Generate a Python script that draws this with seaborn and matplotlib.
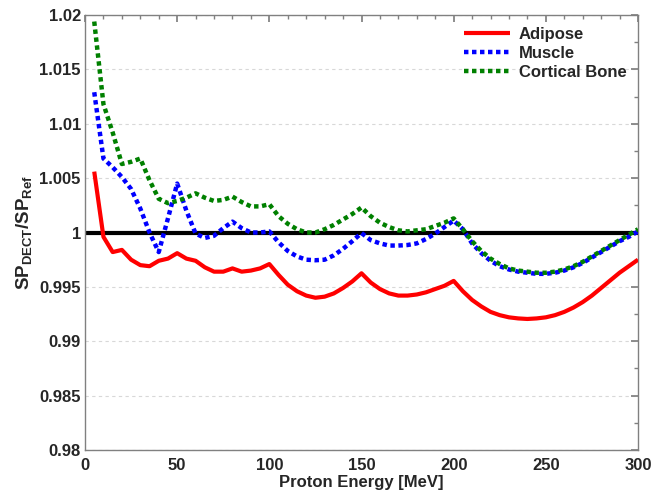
import numpy as np
import pandas as pd
import matplotlib
matplotlib.use("Agg")
import matplotlib.pyplot as plt
import seaborn as sns
from matplotlib.ticker import MultipleLocator

energy = list(range(5, 301, 5))

adipose = [1.0056, 0.9996, 0.9982, 0.9984, 0.9975, 0.9970, 0.9969, 0.9974, 0.9976, 0.9981,
           0.9976, 0.9974, 0.9968, 0.9964, 0.9964, 0.9967, 0.9964, 0.9965, 0.9967, 0.9971,
           0.9961, 0.9952, 0.9946, 0.9942, 0.9940, 0.9941, 0.9944, 0.9949, 0.9955, 0.99625,
           0.9954, 0.9948, 0.9944, 0.9942, 0.9942, 0.9943, 0.9945, 0.9948, 0.9951, 0.99555,
           0.9946, 0.9938, 0.9932, 0.9927, 0.9924, 0.9922, 0.9921, 0.99205, 0.9921, 0.9922,
           0.9924, 0.9927, 0.9931, 0.9936, 0.9942, 0.9949, 0.9956, 0.9963, 0.9969, 0.9975]

muscle = [1.0129, 1.0068, 1.0060, 1.0051, 1.0040, 1.0022, 1.0000, 0.9982, 1.0013, 1.0045,
          1.0020, 0.9999, 0.9995, 0.9997, 1.0004, 1.0010, 1.0004, 1.0000, 1.0000, 1.0001,
          0.9991, 0.9983, 0.9978, 0.9975, 0.99745, 0.9975, 0.9979, 0.9985, 0.9992, 0.99995,
          0.9993, 0.9990, 0.9988, 0.9988, 0.99885, 0.9990, 0.9994, 0.9999, 1.0005, 1.0011,
          1.0003, 0.9990, 0.9981, 0.9974, 0.9969, 0.9966, 0.9964, 0.9963, 0.9962, 0.9962,
          0.9963, 0.9965, 0.9968, 0.9972, 0.9977, 0.9982, 0.9987, 0.9992, 0.9996, 1.0001]

cortical_bone = [1.0194, 1.0118, 1.0092, 1.0063, 1.0065, 1.0068, 1.0048, 1.0031, 1.0027, 1.0029,
                 1.0032, 1.0036, 1.0032, 1.0029, 1.0030, 1.0033, 1.0028, 1.0024, 1.0024, 1.0026,
                 1.0015, 1.0008, 1.0003, 1.0000, 1.0000, 1.0003, 1.0007, 1.0012, 1.0017, 1.0023,
                 1.0015, 1.0009, 1.0005, 1.0002, 1.0001, 1.0002, 1.0003, 1.0006, 1.0009, 1.0013,
                 1.0003, 0.9992, 0.9983, 0.9976, 0.9971, 0.9967, 0.9965, 0.9964, 0.9963, 0.9963,
                 0.9964, 0.9966, 0.9969, 0.9973, 0.9978, 0.9983, 0.9988, 0.9993, 0.9998, 1.0003]

series_names = ["Adipose", "Muscle", "Cortical Bone"]
reference_line = 1.0
y_ticks = [0.98, 0.985, 0.99, 0.995, 1.0, 1.005, 1.01, 1.015, 1.02]

df = pd.DataFrame({
    "Energy": energy * 3,
    "Ratio": adipose + muscle + cortical_bone,
    "Tissue": sum([[n] * len(energy) for n in series_names], []),
})

sns.set_theme(style="white")
plt.rcParams["font.family"] = ["Liberation Sans", "DejaVu Sans"]
plt.rcParams["font.weight"] = "bold"
plt.rcParams["mathtext.fontset"] = "custom"
plt.rcParams["mathtext.rm"] = "Liberation Sans:bold"
plt.rcParams["mathtext.bf"] = "Liberation Sans:bold"
plt.rcParams["mathtext.it"] = "Liberation Sans:bold"

fig = plt.figure(figsize=(6.51, 4.90), dpi=100)
ax = fig.add_axes([0.1306, 0.0816, 0.8494, 0.8878])

ax.axhline(reference_line, color="black", lw=3, zorder=2)

palette = {"Adipose": "#ff0000", "Muscle": "#0000ff", "Cortical Bone": "#008000"}
sns.lineplot(data=df, x="Energy", y="Ratio", hue="Tissue", palette=palette,
             ax=ax, legend=False, zorder=3)
styles = {"Adipose": dict(ls="-", lw=3.0),
          "Muscle": dict(ls=(0, (1, 0.8)), lw=3.2),
          "Cortical Bone": dict(ls=(0, (1, 0.8)), lw=3.2)}
for line, name in zip(ax.get_lines()[1:], series_names):
    line.set_linestyle(styles[name]["ls"])
    line.set_linewidth(styles[name]["lw"])
    line.set_label(name)
    line.set_solid_capstyle("butt")
    line.set_dash_capstyle("butt")

ax.set_xlim(0, 300)
ax.set_ylim(0.98, 1.02)
ax.xaxis.set_major_locator(MultipleLocator(50))
ax.xaxis.set_minor_locator(MultipleLocator(10))
ax.set_yticks(y_ticks)
ax.set_yticklabels([f"{v:g}" for v in y_ticks])
ax.yaxis.set_minor_locator(MultipleLocator(0.0025))

ax.grid(axis="y", which="major", color="#d8d8d8", ls=(0, (3, 3)), lw=0.8)
ax.tick_params(which="both", direction="in", top=True, right=True, color="#808080")
ax.tick_params(which="major", length=5, labelsize=12)
ax.tick_params(axis="x", which="major", pad=6)
ax.tick_params(axis="y", which="major", pad=3)
ax.tick_params(which="minor", length=3)
for lab in ax.get_xticklabels() + ax.get_yticklabels():
    lab.set_fontweight("bold")
for s in ax.spines.values():
    s.set_color("#808080")
    s.set_linewidth(1.0)

ax.set_xlabel("Proton Energy [MeV]", fontsize=12, fontweight="bold", labelpad=1)
ax.set_ylabel(r"$\mathbf{SP_{DECT}/SP_{Ref}}$", fontsize=13.5, labelpad=4)

handles = ax.get_lines()[1:]
leg = ax.legend(handles, series_names, loc="upper right", frameon=False,
                prop={"weight": "bold", "size": 12}, handlelength=2.8,
                borderaxespad=0.3, labelspacing=0.25, handletextpad=0.5)

fig.savefig("out.png", dpi=100)
